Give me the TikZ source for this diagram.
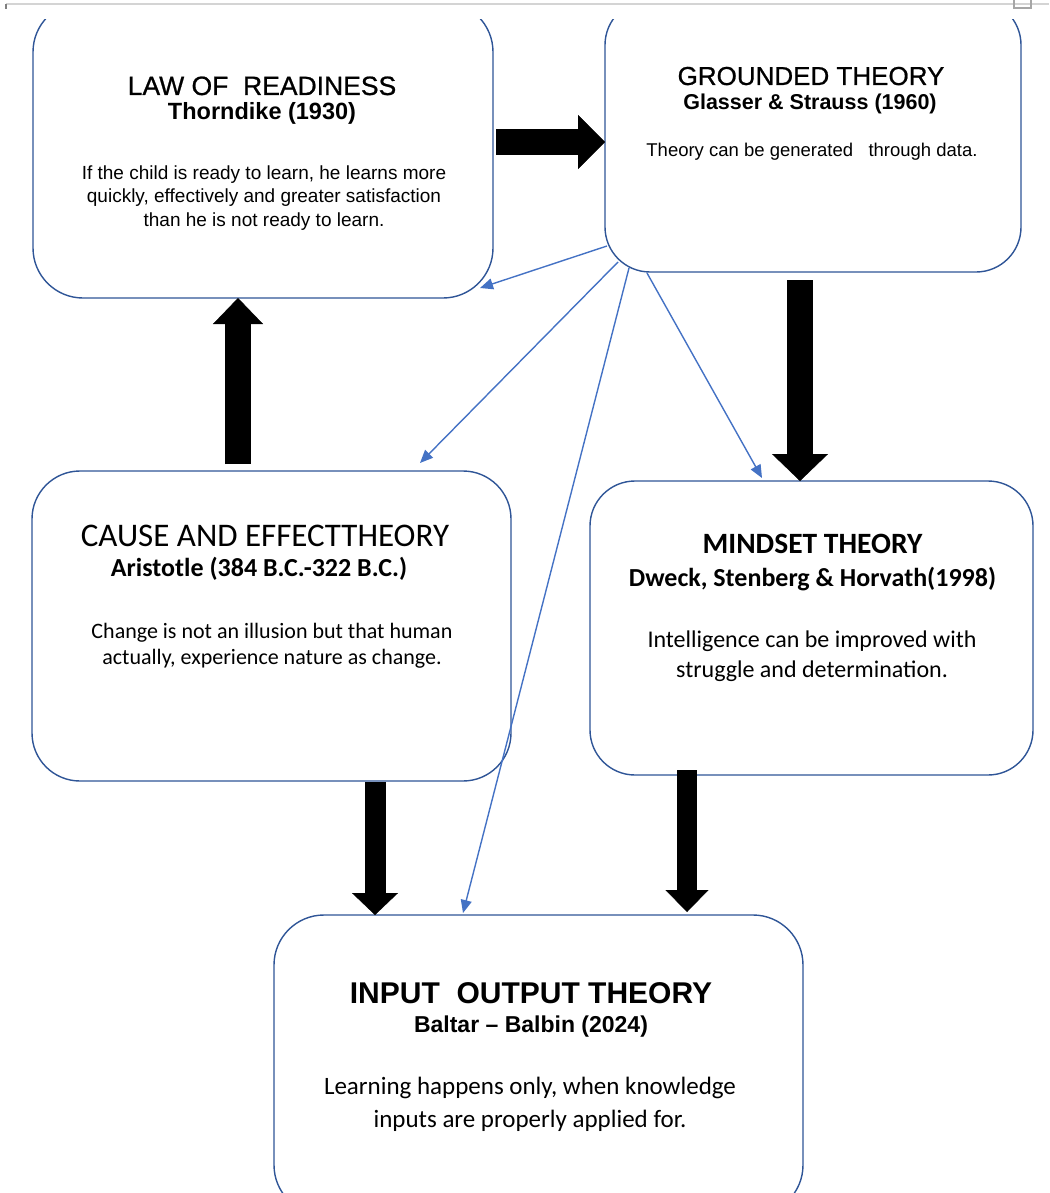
\documentclass[tikz,border=0pt]{standalone}
\usepackage{fontspec}
\setmainfont{Liberation Sans}
\newfontfamily\calfont{Carlito}
\newfontfamily\headfont[FakeBold=0.8]{Liberation Sans}
\usetikzlibrary{arrows.meta,calc}
\definecolor{boxblue}{HTML}{2F5597}
\definecolor{lineblue}{HTML}{4472C4}
\definecolor{pagegray}{HTML}{D4D4D4}
\begin{document}
\begin{tikzpicture}[x=1pt,y=-1pt,
  box/.style={draw=boxblue, line width=1.4pt, fill=white, inner sep=0pt, outer sep=0pt},
  txt/.style={inner sep=0pt, anchor=base, text=black},
  blockarr/.style n args={3}{draw=black, line width=#1, -{Triangle[width=#2, length=#3, line width=0.4pt]}},
  thinarr/.style={draw=lineblue, line width=1.4pt, -{Triangle[width=11pt, length=13pt]}}]
\useasboundingbox (0,0) rectangle (1049,1193);
% page edge
\draw[pagegray, line width=1.6pt] (6,4) -- (1049,4);
\draw[gray, line width=1.5pt] (6,4) -- (6,9);
\draw[gray!70, line width=1.2pt] (1014,0) -- (1014,8) -- (1031,8) -- (1031,0);
% clipped boxes
\begin{scope}
\clip (0,20) rectangle (1049,1193);
\node[box, rounded corners=50pt, minimum width=460pt, minimum height=296pt] (A) at (263,150) {};
\node[box, rounded corners=45pt, minimum width=416pt, minimum height=272pt] (B) at (813,136) {};
\node[box, rounded corners=50pt, minimum width=529pt, minimum height=300pt] (E) at (538.5,1065) {};
\end{scope}
\node[box, rounded corners=48pt, minimum width=479pt, minimum height=310pt] (C) at (271.5,626) {};
\node[box, rounded corners=45pt, minimum width=443pt, minimum height=294pt] (D) at (811.5,628) {};
% texts A
\node[txt] (A1) at (262,95) {\headfont\fontsize{26.5}{30}\selectfont LAW OF\ \ READINESS};
\node[txt] (A2) at (262,120) {\fontsize{23.5}{27}\selectfont\bfseries Thorndike (1930)};
\node[txt] (A3) at (264,180) {\fontsize{19}{22}\selectfont If the child is ready to learn, he learns more};
\node[txt] (A4) at (264,203) {\fontsize{19}{22}\selectfont quickly, effectively and greater satisfaction};
\node[txt] (A5) at (264,226) {\fontsize{19}{22}\selectfont than he is not ready to learn.};
% texts B
\node[txt] (B1) at (811,85) {\headfont\fontsize{26}{30}\selectfont GROUNDED THEORY};
\node[txt] (B2) at (810,110) {\fontsize{21.5}{25}\selectfont\bfseries Glasser \& Strauss (1960)};
\node[txt] (B3) at (812,157) {\fontsize{18.5}{22}\selectfont Theory can be generated\ \ \ through data.};
% texts C
\node[txt] (C1) at (265,546) {\calfont\fontsize{33}{38}\selectfont CAUSE AND EFFECTTHEORY};
\node[txt] (C2) at (259,576) {\calfont\fontsize{26}{30}\selectfont\bfseries Aristotle (384 B.C.-322 B.C.)};
\node[txt] (C3) at (272,638) {\calfont\fontsize{22}{26}\selectfont Change is not an illusion but that human};
\node[txt] (C4) at (272,664) {\calfont\fontsize{22}{26}\selectfont actually, experience nature as change.};
% texts D
\node[txt] (D1) at (812.5,553) {\calfont\fontsize{29.5}{34}\selectfont\bfseries MINDSET THEORY};
\node[txt] (D2) at (812.5,586) {\calfont\fontsize{26}{30}\selectfont\bfseries Dweck, Stenberg \& Horvath(1998)};
\node[txt] (D3) at (812,647) {\calfont\fontsize{24}{28}\selectfont Intelligence can be improved with};
\node[txt] (D4) at (812,677) {\calfont\fontsize{24}{28}\selectfont struggle and determination.};
% texts E
\node[txt] (E1) at (531,1003) {\fontsize{30}{34}\selectfont\bfseries INPUT\ \ OUTPUT THEORY};
\node[txt] (E2) at (531,1032) {\fontsize{23}{27}\selectfont\bfseries Baltar -- Balbin (2024)};
\node[txt] (E3) at (530,1094) {\calfont\fontsize{25}{30}\selectfont Learning happens only, when knowledge};
\node[txt] (E4) at (530,1127) {\calfont\fontsize{25}{30}\selectfont inputs are properly applied for.};
% block arrows
\draw[blockarr={26pt}{54pt}{27pt}] ($(A.east |- 0,142)+(3,0)$) -- (B.west |- 0,142);
\draw[blockarr={26pt}{50pt}{26pt}] ($(238,0 |- C.north)+(0,-7)$) -- (238,0 |- A.south);
\draw[blockarr={26pt}{56pt}{27pt}] ($(800,0 |- B.south)+(0,8)$) -- (800,0 |- D.north);
\draw[blockarr={21pt}{46pt}{22pt}] ($(375,0 |- C.south)+(0,1)$) -- (375,0 |- E.north);
\draw[blockarr={20pt}{43pt}{22pt}] ($(687,0 |- D.south)+(0,-5)$) -- ($(687,0 |- E.north)+(0,-3)$);
% thin arrows from the grounded theory box
\coordinate (s1) at ($(B.south west)+(2,-26)$);
\coordinate (s2) at ($(B.south west)+(13,-10)$);
\coordinate (s3) at ($(B.south west)+(24,-4)$);
\coordinate (s4) at ($(B.south west)+(42,1)$);
\coordinate (t1) at ($(A.south east)+(-13,-10)$);
\coordinate (t2) at ($(C.north west)+(388,-8)$);
\coordinate (t3) at ($(E.north west)+(189,-2)$);
\coordinate (t4) at ($(D.north west)+(172,-3)$);
\draw[thinarr] (s1) -- (t1);
\draw[thinarr] (s2) -- (t2);
\draw[thinarr] (s3) -- (t3);
\draw[thinarr] (s4) -- (t4);
\end{tikzpicture}
\end{document}
